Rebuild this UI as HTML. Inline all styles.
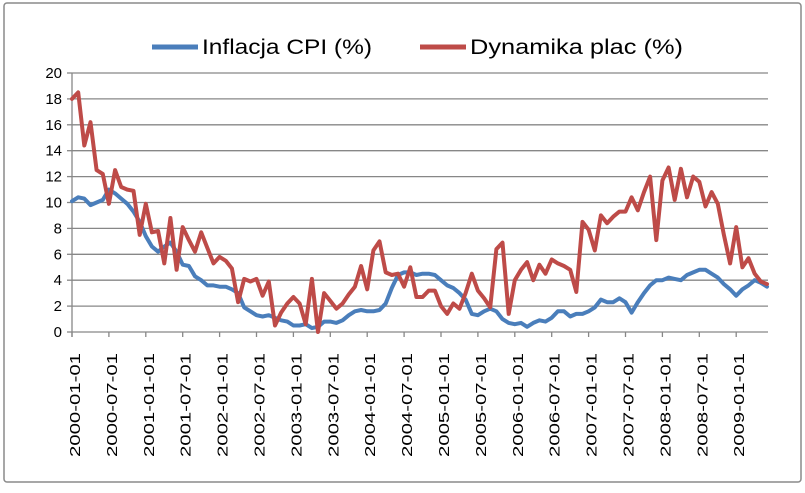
<!DOCTYPE html>
<html><head><meta charset="utf-8"><style>
body{margin:0;background:#fff;}
svg text{font-family:"Liberation Sans",Arial,sans-serif;}
</style></head><body>
<svg width="805" height="488" xmlns="http://www.w3.org/2000/svg">
<rect x="4" y="3" width="797" height="479" rx="3" fill="#fff" stroke="#8a8a8a" stroke-width="1.5"/>
<g>
<line x1="152" y1="47" x2="198" y2="47" stroke="#4a7ebb" stroke-width="5"/>
<text x="202" y="54" font-size="21" fill="#000" textLength="170" lengthAdjust="spacingAndGlyphs">Inflacja CPI (%)</text>
<line x1="420" y1="47" x2="466" y2="47" stroke="#be4b48" stroke-width="5"/>
<text x="470" y="54" font-size="21" fill="#000" textLength="213" lengthAdjust="spacingAndGlyphs">Dynamika plac (%)</text>
</g>
<g id="grid"></g><g id="yax"></g><g id="xax"></g><g id="series"></g>
</svg>
<script>
const yTicks=[0,2,4,6,8,10,12,14,16,18,20];
const xLabels=["2000-01-01","2000-07-01","2001-01-01","2001-07-01","2002-01-01","2002-07-01","2003-01-01","2003-07-01","2004-01-01","2004-07-01","2005-01-01","2005-07-01","2006-01-01","2006-07-01","2007-01-01","2007-07-01","2008-01-01","2008-07-01","2009-01-01"];
const cpi=[10.1,10.4,10.3,9.8,10.0,10.2,11.0,10.7,10.3,9.9,9.3,8.5,
7.4,6.6,6.2,6.6,6.9,6.2,5.2,5.1,4.3,4.0,3.6,3.6,
3.5,3.5,3.3,3.0,1.9,1.6,1.3,1.2,1.3,1.1,0.9,0.8,
0.5,0.5,0.6,0.3,0.4,0.8,0.8,0.7,0.9,1.3,1.6,1.7,
1.6,1.6,1.7,2.2,3.4,4.4,4.6,4.6,4.4,4.5,4.5,4.4,
4.0,3.6,3.4,3.0,2.5,1.4,1.3,1.6,1.8,1.6,1.0,0.7,
0.6,0.7,0.4,0.7,0.9,0.8,1.1,1.6,1.6,1.2,1.4,1.4,
1.6,1.9,2.5,2.3,2.3,2.6,2.3,1.5,2.3,3.0,3.6,4.0,
4.0,4.2,4.1,4.0,4.4,4.6,4.8,4.8,4.5,4.2,3.7,3.3,
2.8,3.3,3.6,4.0,3.8,3.5];
const wages=[18.0,18.5,14.4,16.2,12.5,12.2,9.9,12.5,11.2,11.0,10.9,7.5,
9.9,7.7,7.8,5.3,8.8,4.8,8.1,7.1,6.2,7.7,6.5,5.3,
5.8,5.5,4.9,2.3,4.1,3.9,4.1,2.8,3.9,0.5,1.5,2.2,
2.7,2.2,0.6,4.1,0.0,3.0,2.4,1.8,2.2,2.9,3.5,5.1,
3.3,6.3,7.0,4.6,4.4,4.5,3.5,5.0,2.7,2.7,3.2,3.2,
2.0,1.4,2.2,1.8,3.0,4.5,3.2,2.6,1.9,6.4,6.9,1.4,
4.0,4.8,5.4,4.0,5.2,4.5,5.6,5.3,5.1,4.8,3.1,8.5,
7.9,6.3,9.0,8.4,8.9,9.3,9.3,10.4,9.4,10.8,12.0,7.1,
11.7,12.7,10.2,12.6,10.4,12.0,11.6,9.7,10.8,9.9,7.5,5.3,
8.1,5.0,5.7,4.5,3.9,3.7];
const NS="http://www.w3.org/2000/svg";
const X0=72,DX=6.15,Y0=332,YS=12.95,XR=768;
function xs(i){return X0+DX*i;}
function ys(v){return Y0-YS*v;}
function mk(t,a,p){const e=document.createElementNS(NS,t);for(const k in a)e.setAttribute(k,a[k]);document.getElementById(p).appendChild(e);return e;}
yTicks.forEach(v=>{
 const g=mk('line',{x1:X0,x2:XR,y1:ys(v),y2:ys(v),stroke:'#878787','stroke-width':1.3},'grid');
 
 
 const tk=mk('line',{x1:X0-5,x2:X0,y1:ys(v),y2:ys(v),stroke:'#878787','stroke-width':1.3},'yax');
 
 
 const t=mk('text',{x:X0-10,y:ys(v)+5,'text-anchor':'end','font-size':15,fill:'#000'},'yax');
 t.textContent=v;
 
 
});
const ax=mk('line',{x1:X0,x2:X0,y1:ys(20),y2:Y0+5,stroke:'#878787','stroke-width':1.3},'yax');


xLabels.forEach((l,k)=>{
 const x=xs(k*6);
 const tk=mk('line',{x1:x,x2:x,y1:Y0,y2:Y0+5,stroke:'#878787','stroke-width':1.3},'xax');
 
 
 const t=mk('text',{x:0,y:0,'text-anchor':'end','font-size':15,fill:'#000',textLength:104,lengthAdjust:'spacingAndGlyphs',transform:`translate(${x+8},353) rotate(-90)`},'xax');
 t.textContent=l;
 
 
});
function line(arr,col,name){
 const p=mk('polyline',{points:arr.map((v,i)=>xs(i).toFixed(1)+','+ys(v).toFixed(1)).join(' '),fill:'none',stroke:col,'stroke-width':4,'stroke-linejoin':'round','stroke-linecap':'round'},'series');
 
 
}
line(cpi,'#4a7ebb','cpi-line');
line(wages,'#be4b48','wages-line');
</script>
</body></html>
